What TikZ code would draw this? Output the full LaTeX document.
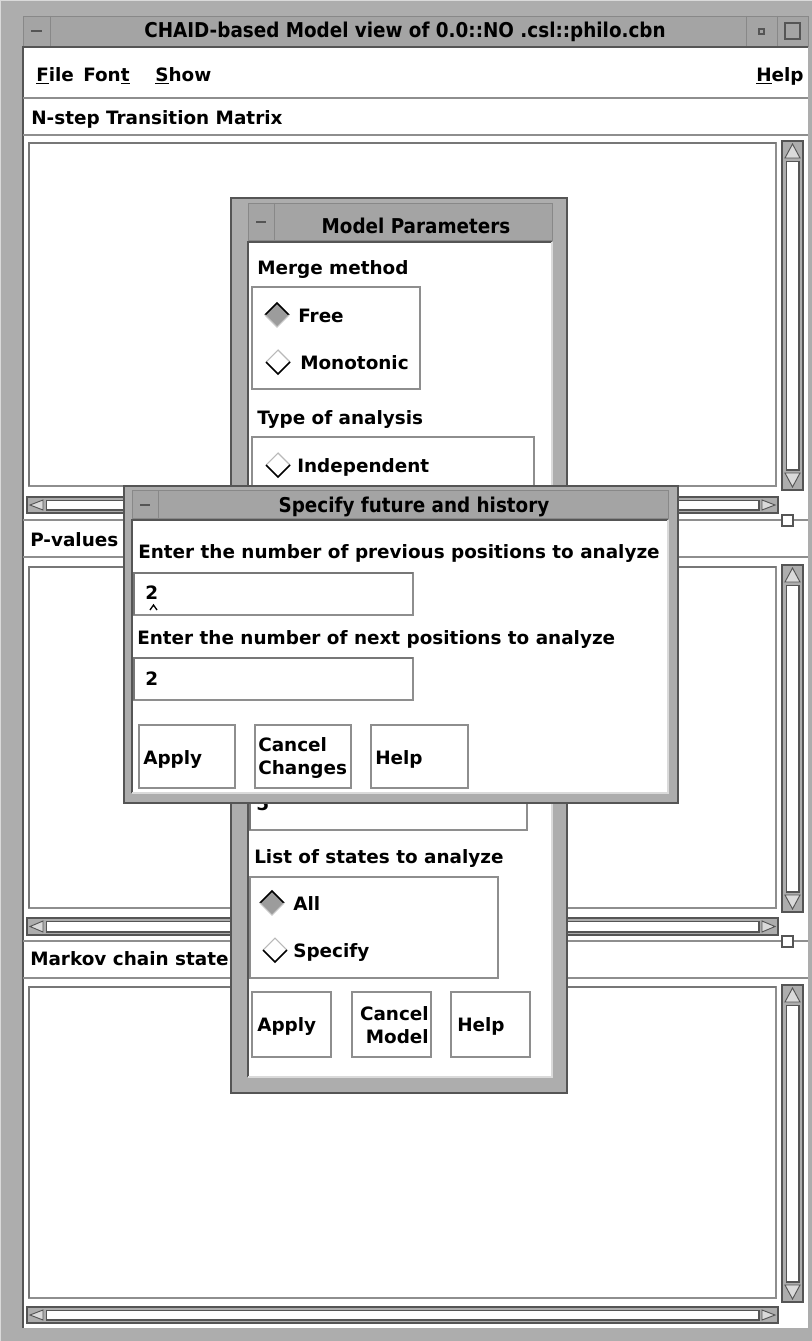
\documentclass[tikz,border=0pt]{standalone}
\usepackage{fontspec}
\setmainfont{DejaVu Sans}
\newfontfamily\titlefont{DejaVu Sans Condensed}

\definecolor{wmframe}{HTML}{ADADAD}
\definecolor{wmtitle}{HTML}{A4A4A4}
\definecolor{wmdark}{HTML}{555555}
\definecolor{wmlight}{HTML}{DADADA}
\definecolor{etch}{HTML}{8E8E8E}
\definecolor{radiofill}{HTML}{9C9C9C}

\tikzset{
  ui/.style={font=\fontsize{13.8}{17}\selectfont\bfseries, inner sep=0pt, anchor=mid west, yshift=-2.6pt, text=black},
  ui2/.style={font=\fontsize{13.8}{17}\selectfont\bfseries, inner sep=0pt, anchor=west, text=black},
  wintitle/.style={font=\titlefont\fontsize{15.3}{17}\selectfont\bfseries, inner sep=0pt, anchor=mid, yshift=-2.2pt, text=black},
  etchline/.style={draw=etch, line width=0.9pt},
  recess/.style={draw=etch, line width=0.8pt},
  pushbtn/.style={fill=white, draw=etch, line width=0.9pt},
  bevel dark/.style={draw=wmdark, line width=0.9pt},
  arrowhead/.style={fill=wmlight, draw=wmdark, line width=0.7pt},
}

% vertical scroll bar: x1 y1 x2 y2
\newcommand\VScroll[4]{%
  \fill[wmframe] (#1,#2) rectangle (#3,#4);
  \draw[bevel dark] (#1,#2) rectangle (#3,#4);
  \filldraw[arrowhead] ({(#1+#3)/2},{#2+3}) -- ({#1+3},{#2+17}) -- ({#3-3},{#2+17}) -- cycle;
  \filldraw[arrowhead] ({(#1+#3)/2},{#4-3}) -- ({#1+3},{#4-17}) -- ({#3-3},{#4-17}) -- cycle;
  \fill[white] ({#1+4},{#2+20}) rectangle ({#3-4},{#4-20});
  \draw[wmdark, line width=1.3pt] ({#3-4},{#2+20}) -- ({#3-4},{#4-20}) -- ({#1+4},{#4-20});
  \draw[wmdark, line width=0.6pt] ({#1+4},{#4-20}) -- ({#1+4},{#2+20}) -- ({#3-4},{#2+20});
}
% horizontal scroll bar: x1 y1 x2 y2
\newcommand\HScroll[4]{%
  \fill[wmframe] (#1,#2) rectangle (#3,#4);
  \draw[bevel dark] (#1,#2) rectangle (#3,#4);
  \filldraw[arrowhead] ({#1+3},{(#2+#4)/2}) -- ({#1+16},{#2+3}) -- ({#1+16},{#4-3}) -- cycle;
  \filldraw[arrowhead] ({#3-3},{(#2+#4)/2}) -- ({#3-16},{#2+3}) -- ({#3-16},{#4-3}) -- cycle;
  \fill[white] ({#1+19},{#2+3}) rectangle ({#3-19},{#4-3});
  \draw[wmdark, line width=1.3pt] ({#1+19},{#4-3}) -- ({#3-19},{#4-3}) -- ({#3-19},{#2+3});
  \draw[wmdark, line width=0.6pt] ({#1+19},{#4-3}) -- ({#1+19},{#2+3}) -- ({#3-19},{#2+3});
}
% diamond radio button: x y selected
\newcommand\Radio[3]{%
  \ifnum#3=1
    \fill[radiofill] ({#1-12},{#2}) -- ({#1},{#2-12}) -- ({#1+12},{#2}) -- ({#1},{#2+12}) -- cycle;
    \draw[black, line width=1.3pt] ({#1-12},{#2}) -- ({#1},{#2-12}) -- ({#1+12},{#2});
    \draw[gray!45, line width=0.8pt] ({#1+12},{#2}) -- ({#1},{#2+12}) -- ({#1-12},{#2});
  \else
    \fill[white] ({#1-12},{#2}) -- ({#1},{#2-12}) -- ({#1+12},{#2}) -- ({#1},{#2+12}) -- cycle;
    \draw[gray!55, line width=0.8pt] ({#1-12},{#2}) -- ({#1},{#2-12}) -- ({#1+12},{#2});
    \draw[black, line width=1.3pt] ({#1+12},{#2}) -- ({#1},{#2+12}) -- ({#1-12},{#2});
  \fi
}
% recessed box with darker top and left edges: x1 y1 x2 y2
\newcommand\Recess[4]{%
  \draw[recess] (#1,#2) rectangle (#3,#4);
  \draw[wmdark!80, line width=0.9pt] (#1,#4) -- (#1,#2) -- (#3,#2);
}

\begin{document}
\begin{tikzpicture}[x=0.75pt, y=-0.75pt]
\useasboundingbox (0,0) rectangle (812,1341);

% ---------------- main window ----------------
\fill[wmframe] (0,0) rectangle (812,1341);
\draw[wmlight, line width=1pt] (0.5,1340.5) -- (0.5,0.5) -- (811.5,0.5);
\fill[wmtitle] (23,16) rectangle (808,46);
\draw[wmdark!70, line width=0.7pt] (23,16) rectangle (808,46);
\draw[wmdark!70, line width=0.7pt] (50,16) -- (50,46) (746,16) -- (746,46) (777,16) -- (777,46);
\draw[wmdark, line width=1.2pt] (31,31) -- (42,31);
\draw[wmdark, line width=0.9pt] (759,29) rectangle (764,34);
\draw[wmdark, line width=0.9pt] (785,23) rectangle (800,39);
\node[wintitle] (maintitle) at (405,31) {CHAID-based Model view of 0.0::NO .csl::philo.cbn};

\fill[white] (23,47) rectangle (808,1328);
\draw[wmdark, line width=0.9pt] (23,1328) -- (23,47) -- (808,47);

% menu bar
\node[ui] (mfile) at (36,74) {\underline{F}ile};
\node[ui] (mfont) at (83,74) {Fon\underline{t}};
\node[ui] (mshow) at (155,74) {\underline{S}how};
\node[ui] (mhelp) at (756,74) {\underline{H}elp};
\draw[etchline] (23,98) -- (808,98);

% pane 1
\node[ui] (lblnstep) at (31,117) {N-step Transition Matrix};
\draw[etchline] (23,135) -- (808,135);
\Recess{29}{143}{776}{486}
\VScroll{782}{141}{803}{490}
\HScroll{27}{497}{778}{513}
\draw[etchline] (23,520) -- (808,520);
\draw[fill=white, draw=wmdark, line width=0.8pt] (782,515) rectangle (793,526);

% pane 2
\node[ui] (lblpval) at (30,539) {P-values};
\draw[etchline] (23,557) -- (808,557);
\Recess{29}{567}{776}{908}
\VScroll{782}{565}{803}{912}
\HScroll{27}{918}{778}{935}
\draw[etchline] (23,941) -- (808,941);
\draw[fill=white, draw=wmdark, line width=0.8pt] (782,936) rectangle (793,947);

% pane 3
\node[ui] (lblmarkov) at (30,958) {Markov chain state};
\draw[etchline] (23,978) -- (808,978);
\Recess{29}{987}{776}{1298}
\VScroll{782}{985}{803}{1302}
\HScroll{27}{1307}{778}{1323}

% ---------------- Model Parameters dialog ----------------
\fill[wmframe] (231,198) rectangle (567,1093);
\draw[wmdark, line width=0.9pt] (231,198) rectangle (567,1093);
\fill[wmtitle] (248,203) rectangle (552,240);
\draw[wmdark!70, line width=0.7pt] (248,203) rectangle (552,240);
\draw[wmdark!70, line width=0.7pt] (274,203) -- (274,240);
\draw[wmdark, line width=1.1pt] (256,222) -- (266,222);
\node[wintitle] (mptitle) at (416,227) {Model Parameters};
\fill[white] (248,242) rectangle (552,1077);
\draw[wmdark, line width=0.9pt] (248,1077) -- (248,242) -- (552,242);
\draw[wmlight, line width=0.9pt] (552,242) -- (552,1077) -- (248,1077);

\node[ui] (lblmerge) at (257,267) {Merge method};
\draw[recess] (252,287) rectangle (420,389);
\Radio{277}{315}{1}
\node[ui] (optfree) at (298,315) {Free};
\Radio{278}{362}{0}
\node[ui] (optmono) at (300,362) {Monotonic};

\node[ui] (lbltype) at (257,417) {Type of analysis};
\draw[recess] (252,437) rectangle (534,560);
\Radio{278}{465}{0}
\node[ui] (optindep) at (297,465) {Independent};

\Recess{250}{785}{527}{830}
\node[ui] (fieldfive) at (256,803) {5};

\node[ui] (lblstates) at (254,856) {List of states to analyze};
\draw[recess] (250,877) rectangle (498,978);
\Radio{272}{903}{1}
\node[ui] (optall) at (293,903) {All};
\Radio{275}{950}{0}
\node[ui] (optspec) at (293,950) {Specify};

\draw[pushbtn] (252,992) rectangle (331,1057);
\node[ui] (mpapply) at (257,1024) {Apply};
\draw[pushbtn] (352,992) rectangle (431,1057);
\node[ui2, anchor=east, align=right] (mpcancel) at (429,1025) {Cancel\\Model};
\draw[pushbtn] (451,992) rectangle (530,1057);
\node[ui] (mphelp) at (457,1024) {Help};

% ---------------- Specify future and history dialog ----------------
\fill[wmframe] (124,486) rectangle (678,803);
\draw[wmdark, line width=0.9pt] (124,486) rectangle (678,803);
\fill[wmtitle] (132,490) rectangle (668,518);
\draw[wmdark!70, line width=0.7pt] (132,490) rectangle (668,518);
\draw[wmdark!70, line width=0.7pt] (158,490) -- (158,518);
\draw[wmdark, line width=1.1pt] (140,505) -- (150,505);
\node[wintitle] (sdtitle) at (414,506) {Specify future and history};
\fill[white] (132,520) rectangle (668,793);
\draw[wmdark, line width=0.9pt] (132,793) -- (132,520) -- (668,520);
\draw[wmlight, line width=0.9pt] (668,520) -- (668,793) -- (132,793);

\node[ui] (lblprev) at (138,551) {Enter the number of previous positions to analyze};
\Recess{134}{573}{413}{615}
\node[ui] (fieldprev) at (145,592) {2};
\draw[black, line width=1pt] (150,610) -- (153.5,605) -- (157,610);
\node[ui] (lblnext) at (137,637) {Enter the number of next positions to analyze};
\Recess{134}{658}{413}{700}
\node[ui] (fieldnext) at (145,678) {2};

\draw[pushbtn] (139,725) rectangle (235,788);
\node[ui] (sdapply) at (143,757) {Apply};
\draw[pushbtn] (255,725) rectangle (351,788);
\node[ui2, align=left] (sdcancel) at (258,758) {Cancel\\Changes};
\draw[pushbtn] (371,725) rectangle (468,788);
\node[ui] (sdhelp) at (375,757) {Help};

\end{tikzpicture}
\end{document}
